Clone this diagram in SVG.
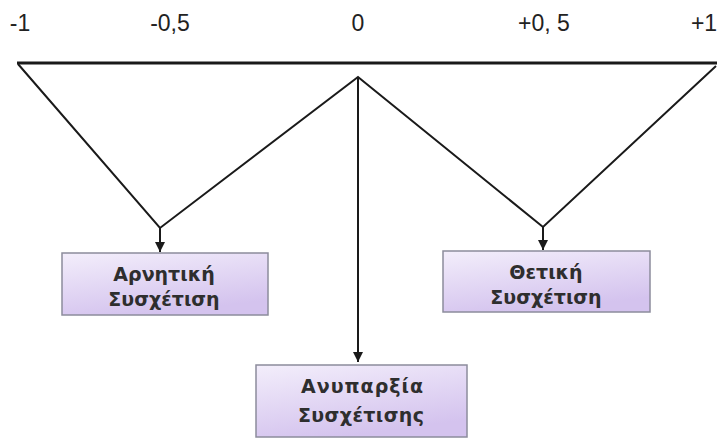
<svg xmlns="http://www.w3.org/2000/svg" width="717" height="445" viewBox="0 0 717 445">
<defs>
<linearGradient id="g" x1="0" y1="0" x2="0.4" y2="1">
<stop offset="0" stop-color="#f3eefb"/>
<stop offset="1" stop-color="#d4c3ee"/>
</linearGradient>
<marker id="ah" viewBox="0 0 10 10" refX="10" refY="5" markerWidth="10" markerHeight="10" markerUnits="userSpaceOnUse" orient="auto">
<path d="M0,0 L10,5 L0,10 z" fill="#1a1a1a"/>
</marker>
<style>
.ln{stroke:#1a1a1a;stroke-width:2;fill:none}
.box{fill:url(#g);stroke:#8c8c9c;stroke-width:1.5}
.t{font-family:"DejaVu Sans","Liberation Sans",sans-serif;font-weight:bold;font-size:19px;fill:#2e2e2e;text-anchor:middle}
.s{font-family:"Liberation Sans",Arial,sans-serif;font-size:23px;fill:#222;text-anchor:middle}
</style>
</defs>
<rect width="717" height="445" fill="#fff"/>
<g id="scale">
<text class="s" x="20" y="31">-1</text>
<text class="s" x="170" y="31">-0,5</text>
<text class="s" x="358" y="31">0</text>
<text class="s" x="544" y="31">+0, 5</text>
<text class="s" x="704" y="31">+1</text>
</g>
<g id="connectors">
<line x1="17" y1="63" x2="717" y2="63" class="ln" style="stroke-width:3"/>
<polyline class="ln" points="18,64 160,228 358,77 543,227 716,66"/>
<line class="ln" x1="358" y1="77" x2="358" y2="362" marker-end="url(#ah)"/>
<line class="ln" x1="160" y1="228" x2="160" y2="252" marker-end="url(#ah)"/>
<line class="ln" x1="543" y1="227" x2="543" y2="250" marker-end="url(#ah)"/>
</g>
<g id="negative">
<rect class="box" x="62" y="253" width="206" height="62"/>
<text class="t" x="164" y="281">Αρνητική</text>
<text class="t" x="164" y="306">Συσχέτιση</text>
</g>
<g id="positive">
<rect class="box" x="443" y="251" width="207" height="61"/>
<text class="t" x="546" y="279">Θετική</text>
<text class="t" x="546" y="304">Συσχέτιση</text>
</g>
<g id="none">
<rect class="box" x="256" y="365" width="211" height="72"/>
<text class="t" x="362" y="393" textLength="122" lengthAdjust="spacing">Ανυπαρξία</text>
<text class="t" x="361" y="422" textLength="126" lengthAdjust="spacing">Συσχέτισης</text>
</g>
</svg>
